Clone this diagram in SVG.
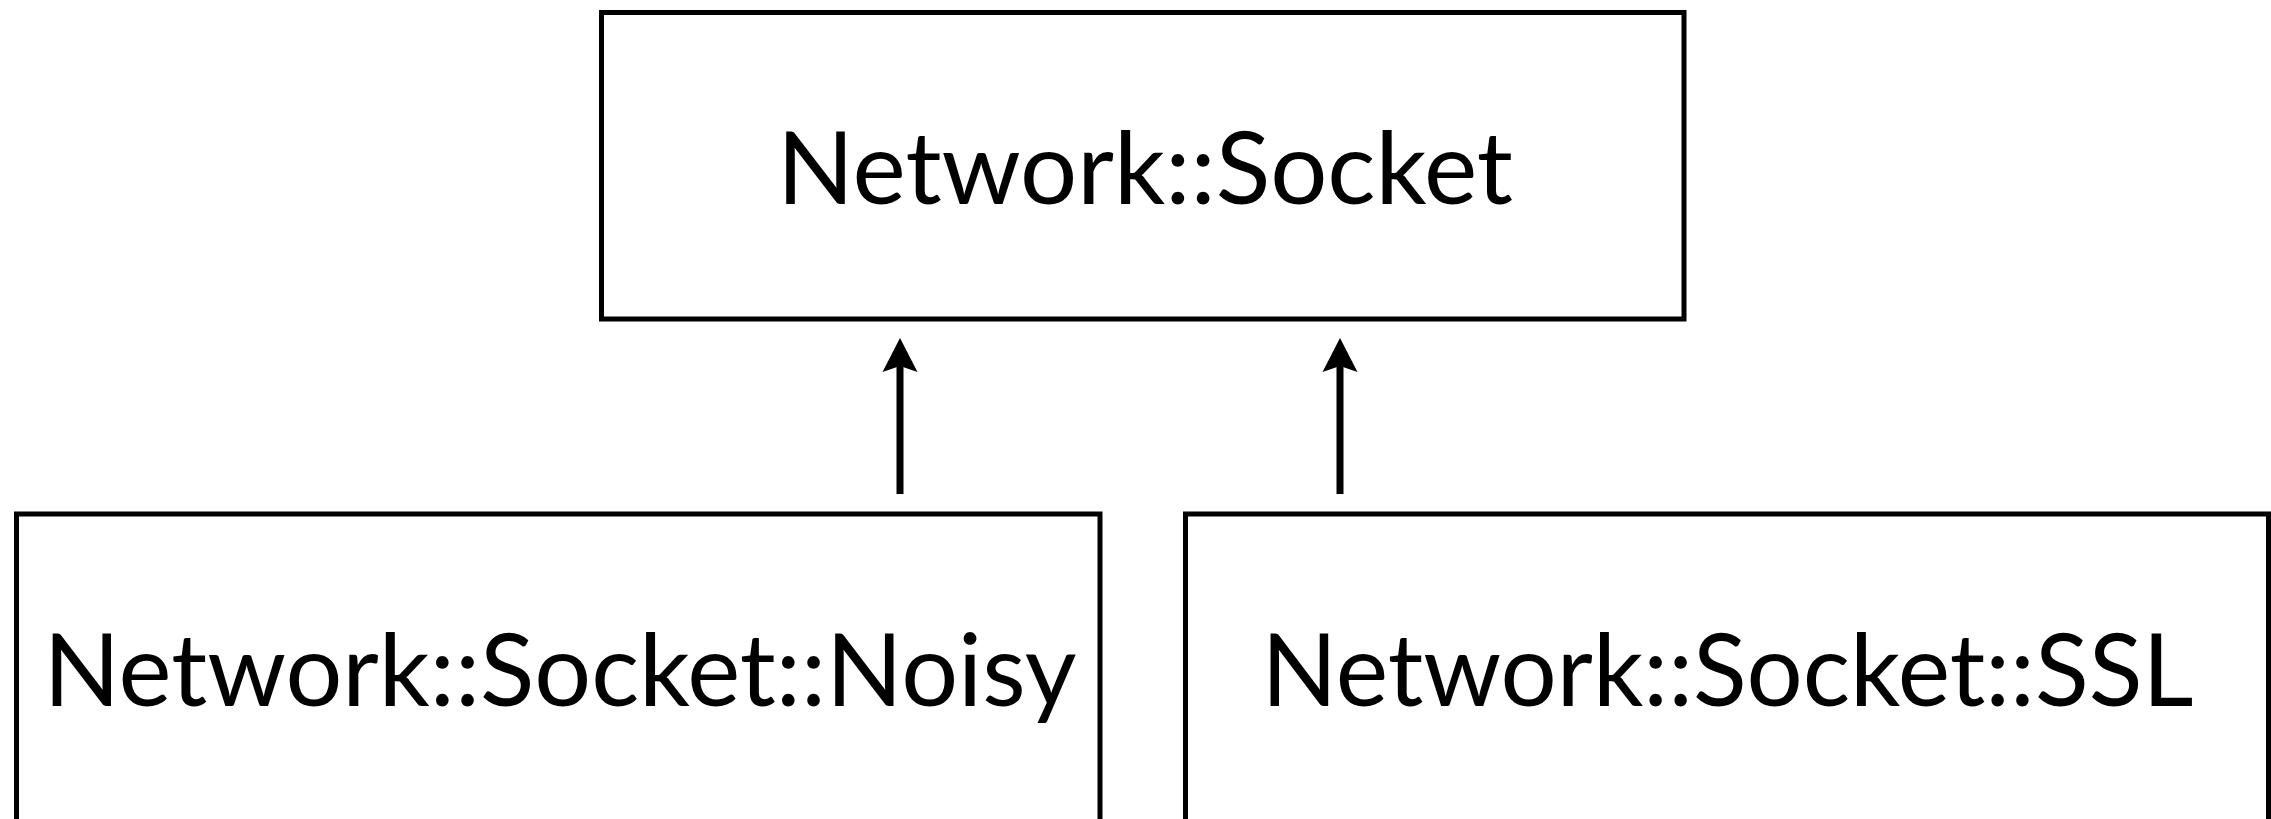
<svg xmlns="http://www.w3.org/2000/svg" width="2271" height="819" viewBox="0 0 2271 819">
  <style>
    .box { fill: #ffffff; stroke: #000000; stroke-width: 5; }
    .label { font-family: "Lato", "Open Sans", "Liberation Sans", sans-serif; font-size: 101px; fill: #000000; text-anchor: middle; }
    .shaft { stroke: #000000; stroke-width: 7; fill: none; }
    .head { fill: #000000; }
  </style>
  <rect x="0" y="0" width="2271" height="819" fill="#ffffff"/>
  <g id="node-socket">
    <rect class="box" x="601.5" y="12.5" width="1082.5" height="306.5"/>
    <text class="label" x="1145" y="204" textLength="736" lengthAdjust="spacingAndGlyphs">Network::Socket</text>
  </g>
  <g id="node-noisy">
    <rect class="box" x="16.5" y="514" width="1083.5" height="400"/>
    <text class="label" x="560" y="706" textLength="1033" lengthAdjust="spacingAndGlyphs">Network::Socket::Noisy</text>
  </g>
  <g id="node-ssl">
    <rect class="box" x="1185.5" y="514" width="1083" height="400"/>
    <text class="label" x="1727.5" y="706" textLength="932" lengthAdjust="spacingAndGlyphs">Network::Socket::SSL</text>
  </g>
  <g id="connectors">
    <line class="shaft" x1="900" y1="494" x2="900" y2="365"/>
    <polygon class="head" points="900,338 917.5,372 900,366 882.5,372"/>
    <line class="shaft" x1="1340" y1="494" x2="1340" y2="365"/>
    <polygon class="head" points="1340,338 1357.5,372 1340,366 1322.5,372"/>
  </g>
</svg>
